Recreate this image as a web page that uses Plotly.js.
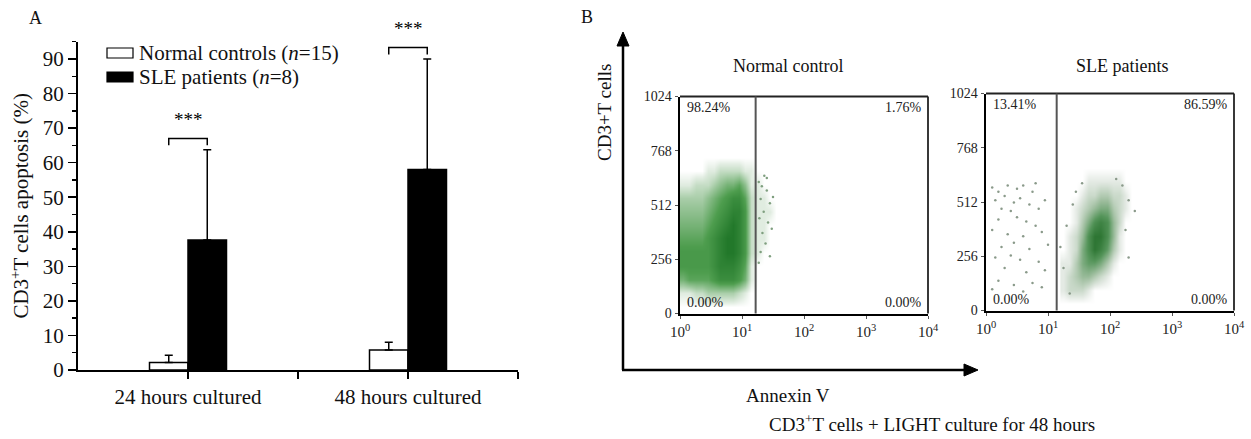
<!DOCTYPE html>
<html>
<head>
<meta charset="utf-8">
<script src="https://cdn.plot.ly/plotly-3.0.1.min.js"></script>
<style>html,body{margin:0;padding:0;background:#fff;}#chart{width:1251px;height:439px;}</style>
</head>
<body>
<div id="chart"></div>
<script>
// ---------------- Panel A data ----------------
const timepoints = ['24 hours cultured', '48 hours cultured'];
const normalMean = [2.2, 5.8];
const normalSD = [2.1, 2.2];
const sleMean = [37.6, 58.0];
const sleSD = [26.1, 32.0];
const seriesNames = ['Normal controls (<i>n</i>=15)', 'SLE patients (<i>n</i>=8)'];
const sigLabels = ['***', '***'];
const yTicksA = [0, 10, 20, 30, 40, 50, 60, 70, 80, 90];

// ---------------- Panel B data ----------------
const panelTitles = ['Normal control', 'SLE patients'];
const quadNormal = ['98.24%', '1.76%', '0.00%', '0.00%']; // UL, UR, LL, LR
const quadSLE = ['13.41%', '86.59%', '0.00%', '0.00%'];
const gateNormal = [1.22];   // log10 Annexin V
const gateSLE = [1.14];
const xTickVals = [0, 1, 2, 3, 4];
const xTickText = ['10<sup>0</sup>', '10<sup>1</sup>', '10<sup>2</sup>', '10<sup>3</sup>', '10<sup>4</sup>'];
const yTickVals = [0, 256, 512, 768, 1024];

// density of events (normal control), x = log10 Annexin V, y = CD3
const normalDensX = [0.05,0.15,0.25,0.35,0.45,0.55,0.65,0.75,0.85,0.95,1.05,1.15,1.25,1.35,1.45,1.55];
const normalDensY = [32,96,160,224,288,352,416,480,544,608,672,736];
const normalDensZ = [
 [0,0,0,0,0,0,0,0,0,0,0,0,0,0,0,0],
 [1,1,2,2,3,3,3,3,3,2,1,0,0,0,0,0],
 [5,6,6,6,6,7,8,8,8,7,5,1,0,0,0,0],
 [7,7,7,7,7,8,9,9,9,8,6,1,0,0,0,0],
 [7,7,7,7,7,8,9,10,10,9,7,2,1,0,0,0],
 [6,6,6,6,7,8,9,10,10,9,7,2,1,1,0,0],
 [5,5,5,5,6,7,8,9,10,9,7,2,1,1,0,0],
 [4,4,4,4,5,6,7,8,9,9,7,2,1,1,1,0],
 [3,3,3,3,4,5,6,7,8,8,6,2,1,1,0,0],
 [1,1,2,2,2,3,4,5,5,6,4,1,1,0,0,0],
 [0,0,0,0,1,1,2,2,2,2,1,1,0,0,0,0],
 [0,0,0,0,0,0,0,0,0,0,0,0,0,0,0,0]
];
const normalSparseX = [1.27,1.32,1.40,1.30,1.45,1.35,1.28,1.42,1.50,1.33,1.38,1.30,1.45,1.27,1.40,1.48,1.36];
const normalSparseY = [620,600,580,540,520,480,450,430,550,380,330,290,270,240,640,400,650];

// density of events (SLE patients)
const sleDensX = [1.25,1.35,1.45,1.55,1.65,1.75,1.85,1.95,2.05,2.15,2.25,2.35];
const sleDensY = [32,96,160,224,288,352,416,480,544,608,672];
const sleDensZ = [
 [0,0,0,0,0,0,0,0,0,0,0,0],
 [1,2,2,2,1,0,0,0,0,0,0,0],
 [1,2,3,4,4,3,2,1,0,0,0,0],
 [1,1,3,5,6,6,5,3,1,0,0,0],
 [0,1,2,5,7,9,8,6,3,1,0,0],
 [0,1,2,4,7,9,9,7,4,1,0,0],
 [0,0,1,3,5,7,8,7,4,2,0,0],
 [0,0,1,2,3,4,5,5,3,2,1,0],
 [0,0,0,1,2,2,3,3,2,2,1,0],
 [0,0,0,0,1,1,1,1,1,1,0,0],
 [0,0,0,0,0,0,0,0,0,0,0,0]
];
const sleSparseX = [0.10,0.20,0.35,0.50,0.60,0.75,0.15,0.30,0.45,0.55,0.25,0.40,0.70,0.85,0.95,0.20,0.50,0.65,0.80,0.10,0.35,0.60,0.90,0.25,0.45,0.70,1.00,0.15,0.55,0.85,0.30,0.65,0.95,0.20,0.45,0.75,0.10,0.60,0.90,0.40,0.80,
  1.30,1.40,1.45,2.20,2.30,2.40,1.20,1.25,2.30,1.55,2.25,1.35,2.10];
const sleSparseY = [580,560,590,575,590,560,520,540,510,530,480,470,500,480,520,430,440,420,400,380,360,350,370,300,320,290,310,250,240,230,200,180,190,140,120,130,100,90,110,260,600,
  400,500,560,590,520,470,300,200,250,600,380,80,620];

// ---------------- Layout geometry ----------------
const W = 1251, H = 439;
const X = p => p / W, Y = p => 1 - p / H;
const FONT = 'Liberation Serif, Times New Roman, serif';
const domA = {x: [X(78), X(518)], y: [Y(370), Y(41.7)]};
const yMaxA = 95;
const dom2 = {x: [X(680), X(928)], y: [Y(313.5), Y(96.5)]};
const dom3 = {x: [X(986), X(1234)], y: [Y(310.5), Y(93.5)]};

const barGap = 0.65;
const barW = (1 - barGap) / 2;
const catX = timepoints.map((_, i) => i);

const traces = [
  {type: 'bar', x: catX, y: normalMean, name: seriesNames[0], xaxis: 'x', yaxis: 'y',
   marker: {color: '#ffffff', line: {color: '#000', width: 1.5}},
   error_y: {type: 'data', symmetric: false, array: normalSD, arrayminus: normalSD.map(() => 0), color: '#000', thickness: 1.5, width: 4},
   showlegend: false, hoverinfo: 'skip'},
  {type: 'bar', x: catX, y: sleMean, name: seriesNames[1], xaxis: 'x', yaxis: 'y',
   marker: {color: '#000000', line: {color: '#000', width: 1.5}},
   error_y: {type: 'data', symmetric: false, array: sleSD, arrayminus: sleSD.map(() => 0), color: '#000', thickness: 1.5, width: 4},
   showlegend: false, hoverinfo: 'skip'}
];

const cscale = [[0, '#ffffff'], [0.1, '#e0ece0'], [0.35, '#9cc79c'], [0.65, '#4f9e4f'], [1, '#22782a']];
traces.push({type: 'heatmap', x: normalDensX, y: normalDensY, z: normalDensZ, xaxis: 'x2', yaxis: 'y2',
  zsmooth: 'best', zmin: 0, zmax: 10, colorscale: cscale, showscale: false, hoverinfo: 'skip'});
traces.push({type: 'scatter', mode: 'markers', x: normalSparseX, y: normalSparseY, xaxis: 'x2', yaxis: 'y2',
  marker: {size: 2.5, color: '#7f9f7f'}, showlegend: false, hoverinfo: 'skip'});
const cscale2 = [[0, '#ffffff'], [0.1, '#e4eae4'], [0.35, '#a5c2a5'], [0.65, '#55955a'], [1, '#1f6a25']];
traces.push({type: 'heatmap', x: sleDensX, y: sleDensY, z: sleDensZ, xaxis: 'x3', yaxis: 'y3',
  zsmooth: 'best', zmin: 0, zmax: 10, colorscale: cscale2, showscale: false, hoverinfo: 'skip'});
traces.push({type: 'scatter', mode: 'markers', x: sleSparseX, y: sleSparseY, xaxis: 'x3', yaxis: 'y3',
  marker: {size: 2.5, color: '#8a9a8a'}, showlegend: false, hoverinfo: 'skip'});

const shapes = [];
const annotations = [];

// significance brackets
catX.forEach((c, i) => {
  const x0 = c - barW / 2, x1 = c + barW / 2;
  const top = Math.max(normalMean[i] + normalSD[i], sleMean[i] + sleSD[i]) + 3.3;
  shapes.push({type: 'path', xref: 'x', yref: 'y',
    path: `M ${x0},${top - 2} L ${x0},${top} L ${x1},${top} L ${x1},${top - 2}`,
    line: {color: '#000', width: 1.5}});
  const yp = domA.y[0] + (top + 1.8) / yMaxA * (domA.y[1] - domA.y[0]);
  annotations.push({xref: 'x', yref: 'paper', x: c, y: yp, text: sigLabels[i], showarrow: false,
    xanchor: 'center', yanchor: 'bottom', font: {family: FONT, size: 19, color: '#000'}});
});

// manual legend
const legFill = ['#ffffff', '#000000'];
const legY = [53, 77];
seriesNames.forEach((n, i) => {
  shapes.push({type: 'rect', xref: 'paper', yref: 'paper', x0: X(107), x1: X(133), y0: Y(legY[i] + 5), y1: Y(legY[i] - 5),
    fillcolor: legFill[i], line: {color: '#000', width: 1.2}});
  annotations.push({xref: 'paper', yref: 'paper', x: X(137), y: Y(legY[i]), xanchor: 'left', yanchor: 'middle',
    text: n, showarrow: false, font: {family: FONT, size: 21, color: '#111'}});
});

// panel letters
annotations.push({xref: 'paper', yref: 'paper', x: X(35), y: Y(18), xanchor: 'center', yanchor: 'middle', text: 'A', showarrow: false, font: {family: FONT, size: 18, color: '#111'}});
annotations.push({xref: 'paper', yref: 'paper', x: X(587), y: Y(17), xanchor: 'center', yanchor: 'middle', text: 'B', showarrow: false, font: {family: FONT, size: 18, color: '#111'}});

// Panel B big arrows
const ax0 = 623, ay0 = 370;
shapes.push({type: 'line', xref: 'paper', yref: 'paper', x0: X(ax0), y0: Y(ay0), x1: X(ax0), y1: Y(44), line: {color: '#000', width: 2.5}});
shapes.push({type: 'line', xref: 'paper', yref: 'paper', x0: X(ax0 - 1), y0: Y(ay0), x1: X(966), y1: Y(ay0), line: {color: '#000', width: 2.5}});
shapes.push({type: 'path', xref: 'paper', yref: 'paper', fillcolor: '#000', line: {color: '#000', width: 1},
  path: `M ${X(ax0 - 6)},${Y(46)} L ${X(ax0)},${Y(32)} L ${X(ax0 + 6)},${Y(46)} Z`});
shapes.push({type: 'path', xref: 'paper', yref: 'paper', fillcolor: '#000', line: {color: '#000', width: 1},
  path: `M ${X(964)},${Y(ay0 - 6)} L ${X(978)},${Y(ay0)} L ${X(964)},${Y(ay0 + 6)} Z`});

annotations.push({xref: 'paper', yref: 'paper', x: X(604), y: Y(113), xanchor: 'center', yanchor: 'middle', text: 'CD3+T cells', textangle: -90, showarrow: false,
  font: {family: FONT, size: 19, color: '#111'}});
annotations.push({xref: 'paper', yref: 'paper', x: X(788), y: Y(395), xanchor: 'center', yanchor: 'middle', text: 'Annexin V', showarrow: false,
  font: {family: FONT, size: 19, color: '#111'}});
annotations.push({xref: 'paper', yref: 'paper', x: X(932), y: Y(423), xanchor: 'center', yanchor: 'middle', text: 'CD3<sup>+</sup>T cells + LIGHT culture for 48 hours', showarrow: false,
  font: {family: FONT, size: 19, color: '#111'}});

// Scatter sub-panels decorations
[['x2', 'y2', panelTitles[0], quadNormal, gateNormal[0], 0.435], ['x3', 'y3', panelTitles[1], quadSLE, gateSLE[0], 0.55]].forEach(([xa, ya, t, q, g, tx]) => {
  annotations.push({xref: xa + ' domain', yref: 'paper', x: tx, y: Y(66), xanchor: 'center', yanchor: 'middle', text: t, showarrow: false,
    font: {family: FONT, size: 18, color: '#111'}});
  // top & right frame
  shapes.push({type: 'line', xref: xa + ' domain', yref: ya + ' domain', x0: 0, x1: 1, y0: 1, y1: 1, line: {color: '#222', width: 1.8}});
  shapes.push({type: 'line', xref: xa + ' domain', yref: ya + ' domain', x0: 1, x1: 1, y0: 0, y1: 1, line: {color: '#222', width: 1.8}});
  // gate
  shapes.push({type: 'line', xref: xa, yref: ya + ' domain', x0: g, x1: g, y0: 0, y1: 1, line: {color: '#555', width: 2}});
  const pos = [[0.02, 0.948, 'left'], [0.985, 0.948, 'right'], [0.02, 0.052, 'left'], [0.985, 0.052, 'right']];
  q.forEach((s, k) => {
    annotations.push({xref: xa + ' domain', yref: ya + ' domain', x: pos[k][0], y: pos[k][1], xanchor: pos[k][2], yanchor: 'middle',
      text: s, showarrow: false, font: {family: FONT, size: 14, color: '#222'}});
  });
});

const flowX = (dom) => ({domain: dom.x, range: [0, 4], tickmode: 'array', tickvals: xTickVals, ticktext: xTickText,
  showline: true, linewidth: 2.5, linecolor: '#000', ticks: 'outside', ticklen: 3, tickcolor: '#555',
  showgrid: false, zeroline: false, fixedrange: true, tickfont: {family: FONT, size: 15, color: '#222'}});
const flowY = (dom) => ({domain: dom.y, range: [0, 1024], tickmode: 'array', tickvals: yTickVals,
  showline: true, linewidth: 2.5, linecolor: '#000', ticks: 'outside', ticklen: 3, tickcolor: '#555',
  showgrid: false, zeroline: false, fixedrange: true, tickfont: {family: FONT, size: 14, color: '#222'}});

const layout = {
  width: W, height: H, margin: {l: 0, r: 0, t: 0, b: 0},
  paper_bgcolor: '#fff', plot_bgcolor: 'rgba(0,0,0,0)',
  barmode: 'group', bargap: barGap, bargroupgap: 0,
  showlegend: false,
  font: {family: FONT, color: '#111'},
  xaxis: {domain: domA.x, range: [-0.5, 1.5], tickmode: 'array', tickvals: [0, 0.5, 1, 1.5],
    ticktext: [timepoints[0], '', timepoints[1], ''], ticks: 'outside', ticklen: 7, tickwidth: 1.5, tickcolor: '#000',
    showline: true, linewidth: 2, linecolor: '#000', showgrid: false, zeroline: false, fixedrange: true,
    tickfont: {family: FONT, size: 21, color: '#111'}},
  yaxis: {domain: domA.y, range: [0, yMaxA], tickmode: 'array', tickvals: yTicksA, ticks: 'outside', ticklen: 8, tickwidth: 1.5,
    tickcolor: '#000', showline: true, linewidth: 2, linecolor: '#000', showgrid: false, zeroline: false, fixedrange: true,
    minor: {tickmode: 'linear', tick0: 5, dtick: 10, ticks: 'outside', ticklen: 4, tickwidth: 1.5, tickcolor: '#000', showgrid: false},
    tickfont: {family: FONT, size: 21, color: '#111'},
    title: {text: 'CD3<sup>+</sup>T cells apoptosis (%)', font: {family: FONT, size: 21, color: '#111'}, standoff: 8}},
  xaxis2: flowX(dom2), yaxis2: Object.assign(flowY(dom2), {anchor: 'x2'}),
  xaxis3: flowX(dom3), yaxis3: Object.assign(flowY(dom3), {anchor: 'x3'}),
  shapes: shapes, annotations: annotations
};
layout.xaxis2.anchor = 'y2';
layout.xaxis3.anchor = 'y3';

Plotly.newPlot('chart', traces, layout, {displayModeBar: false, staticPlot: true});
</script>
</body>
</html>
